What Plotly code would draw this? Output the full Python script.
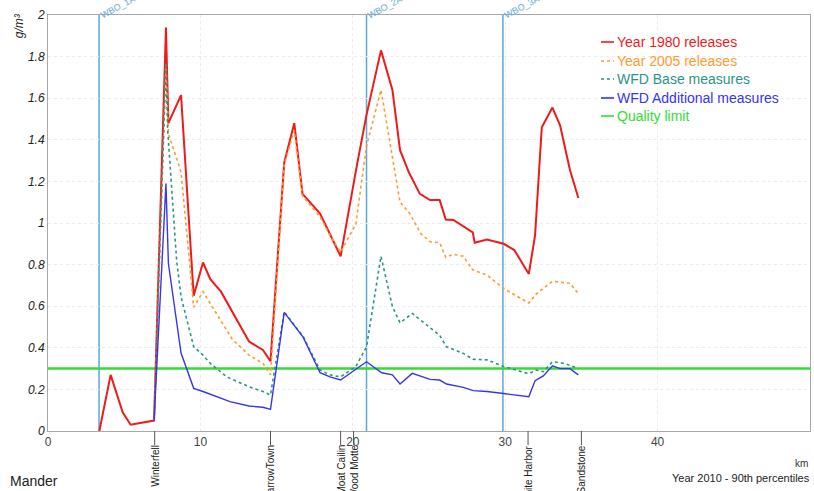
import plotly.graph_objects as go

# Concentration profiles along the river (km vs g/m³), 90th percentiles
km_1980 = [3.37, 4.11, 4.9, 5.42, 6.96, 7.74, 7.9, 8.73, 9.56, 10.17, 10.65, 11.35, 13.19, 14.1, 14.6,
           15.5, 16.16, 16.7, 17.85, 18.5, 19.2, 20.25, 20.9, 21.85, 22.6, 23.1, 23.7, 24.4, 25.07, 25.7,
           26.1, 26.6, 27.87, 28.0, 28.8, 29.9, 30.6, 31.55, 31.96, 32.4, 33.1, 33.6, 34.25, 34.8]
val_1980 = [0.0, 0.27, 0.09, 0.03, 0.05, 1.94, 1.48, 1.615, 0.65, 0.81, 0.73, 0.67, 0.43, 0.39, 0.335,
            1.29, 1.48, 1.14, 1.045, 0.95, 0.84, 1.27, 1.52, 1.83, 1.64, 1.35, 1.24, 1.14, 1.11, 1.11,
            1.017, 1.015, 0.955, 0.905, 0.92, 0.90, 0.87, 0.755, 0.94, 1.46, 1.555, 1.47, 1.255, 1.12]

km_2005 = [6.96, 7.74, 7.9, 8.73, 9.56, 10.17, 12.1, 13.19, 14.1, 14.6, 15.5, 16.16, 16.7, 17.85, 18.5,
           19.2, 20.2, 20.9, 21.85, 23.1, 23.75, 24.45, 25.07, 25.7, 26.1, 26.6, 27.25, 27.87, 28.8,
           29.9, 30.6, 31.55, 32.05, 33.1, 34.25, 34.8]
val_2005 = [0.05, 1.76, 1.43, 1.245, 0.595, 0.67, 0.44, 0.365, 0.325, 0.27, 1.28, 1.445, 1.13, 1.03, 0.94,
            0.86, 0.995, 1.37, 1.64, 1.10, 1.045, 0.95, 0.91, 0.905, 0.835, 0.85, 0.84, 0.775, 0.75,
            0.685, 0.655, 0.615, 0.66, 0.72, 0.71, 0.66]

km_base = [6.96, 7.74, 7.85, 8.44, 8.73, 9.56, 10.17, 10.65, 11.73, 13.19, 14.1, 14.6, 15.5, 16.75, 17.85,
           18.5, 19.2, 20.2, 20.9, 21.85, 22.6, 23.1, 23.9, 25.7, 26.15, 27.25, 27.9, 28.8, 29.9,
           31.55, 32.05, 32.5, 33.1, 33.9, 34.8]
val_base = [0.05, 1.77, 1.45, 0.82, 0.645, 0.405, 0.365, 0.325, 0.26, 0.213, 0.19, 0.173, 0.573, 0.453, 0.293,
            0.27, 0.26, 0.31, 0.405, 0.84, 0.598, 0.52, 0.565, 0.46, 0.405, 0.373, 0.345, 0.342, 0.31,
            0.275, 0.293, 0.285, 0.333, 0.325, 0.30]

km_add = [6.96, 7.74, 7.9, 8.73, 9.56, 10.17, 11.94, 13.19, 14.1, 14.6, 15.5, 16.75, 17.85, 18.5, 19.2,
          20.2, 20.9, 21.9, 22.6, 23.1, 23.9, 25.07, 25.7, 26.15, 27.25, 27.9, 28.8, 29.9, 31.55,
          31.96, 32.5, 33.1, 33.6, 34.25, 34.8]
val_add = [0.05, 1.19, 0.805, 0.375, 0.205, 0.19, 0.141, 0.12, 0.114, 0.104, 0.57, 0.45, 0.28, 0.26, 0.245,
           0.297, 0.333, 0.28, 0.27, 0.226, 0.277, 0.248, 0.245, 0.226, 0.21, 0.194, 0.19, 0.18, 0.165,
           0.242, 0.265, 0.313, 0.30, 0.30, 0.27]

quality_limit = 0.3
x_range = [0, 50]

# Water-body boundaries and named stations along the river
wbo_km = [3.35, 20.9, 29.85]
wbo_names = ["WBO_1A", "WBO_2A", "WBO_3A"]
station_km = [7.0, 14.6, 19.2, 20.05, 31.5, 35.0]
station_names = ["Winterfell", "BarrowTown", "Moat Cailin", "Wood Motte", "White Harbor", "Sandstone"]

series_names = ["Year 1980 releases", "Year 2005 releases", "WFD Base measures",
                "WFD Additional measures", "Quality limit"]
series_colors = ["#ee1b1b", "#ff9a30", "#2b9488", "#3636ee", "#33dd33"]
series_dash = ["solid", "dot", "dot", "solid", "solid"]

FONT = "Arial, Liberation Sans, sans-serif"

fig = go.Figure()

fig.add_trace(go.Scatter(x=x_range, y=[quality_limit, quality_limit], mode="lines",
                         line=dict(color=series_colors[4], width=2.5), name=series_names[4]))
fig.add_trace(go.Scatter(x=km_1980, y=val_1980, mode="lines",
                         line=dict(color=series_colors[0], width=2), name=series_names[0]))
fig.add_trace(go.Scatter(x=km_2005, y=val_2005, mode="lines",
                         line=dict(color=series_colors[1], width=1.6, dash="dot"), name=series_names[1]))
fig.add_trace(go.Scatter(x=km_base, y=val_base, mode="lines",
                         line=dict(color=series_colors[2], width=1.6, dash="dot"), name=series_names[2]))
fig.add_trace(go.Scatter(x=km_add, y=val_add, mode="lines",
                         line=dict(color=series_colors[3], width=1.4), name=series_names[3]))

shapes = []
annotations = []

# Water-body boundary lines with slanted labels at the top
for k, name in zip(wbo_km, wbo_names):
    shapes.append(dict(type="line", xref="x", yref="paper", x0=k, x1=k, y0=0, y1=1,
                       line=dict(color="#5aa8d6", width=1.5), layer="below"))
    annotations.append(dict(x=k, y=1, xref="x", yref="paper", text=name, showarrow=False,
                            textangle=-28, xanchor="left", yanchor="bottom", xshift=-3, yshift=-8,
                            font=dict(family=FONT, size=9, color="#62aad8")))

# Station ticks and rotated names below the axis
for k, name in zip(station_km, station_names):
    shapes.append(dict(type="line", xref="x", yref="paper", x0=k, x1=k, y0=0, y1=-0.034,
                       line=dict(color="#555555", width=1)))
    annotations.append(dict(x=k, y=0, xref="x", yref="paper", text=name, showarrow=False,
                            textangle=-90, xanchor="center", yanchor="top", yshift=-12,
                            font=dict(family=FONT, size=10, color="#222222")))

# Legend drawn as short coloured samples with coloured labels
legend_rows_px = [42, 61, 79, 98, 116]
plot_top, plot_bottom, plot_left, plot_w = 15, 431, 48, 762
for name, col, dash, ypx in zip(series_names, series_colors, series_dash, legend_rows_px):
    yp = (plot_bottom - ypx) / (plot_bottom - plot_top)
    shapes.append(dict(type="line", xref="paper", yref="paper",
                       x0=(601 - plot_left) / plot_w, x1=(614 - plot_left) / plot_w, y0=yp, y1=yp,
                       line=dict(color=col, width=1.6, dash=dash)))
    annotations.append(dict(x=(615 - plot_left) / plot_w, y=yp, xref="paper", yref="paper", text=name,
                            showarrow=False, xanchor="left", yanchor="middle",
                            font=dict(family=FONT, size=14, color=col)))

# Axis title, unit and footer texts
annotations += [
    dict(x=-0.037, y=0.975, xref="paper", yref="paper", text="<i>g/m³</i>", showarrow=False,
         textangle=-90, xanchor="center", yanchor="middle", font=dict(family=FONT, size=12, color="#222222")),
    dict(x=1.0, y=-0.079, xref="paper", yref="paper", text="km", showarrow=False,
         xanchor="right", yanchor="middle", font=dict(family=FONT, size=10, color="#333333")),
    dict(x=-0.0525, y=-0.12, xref="paper", yref="paper", text="Mander", showarrow=False,
         xanchor="left", yanchor="middle", font=dict(family=FONT, size=14, color="#222222")),
    dict(x=1.0, y=-0.113, xref="paper", yref="paper", text="Year 2010 - 90th percentiles", showarrow=False,
         xanchor="right", yanchor="middle", xshift=2, font=dict(family=FONT, size=11, color="#222222")),
]

fig.update_layout(
    width=814, height=491,
    margin=dict(l=48, r=4, t=15, b=60),
    paper_bgcolor="white", plot_bgcolor="white",
    showlegend=False,
    font=dict(family=FONT, color="#333333"),
    shapes=shapes, annotations=annotations,
)
fig.update_xaxes(range=x_range, dtick=10, tick0=0, showline=True, linecolor="#a8a8a8", linewidth=1,
                 mirror=True, showgrid=True, gridcolor="#ececec", griddash="dot", zeroline=False,
                 ticks="", tickfont=dict(family=FONT, size=12, color="#444444"), automargin=False)
fig.update_yaxes(range=[0, 2], dtick=0.2, tick0=0, showline=True, linecolor="#a8a8a8", linewidth=1,
                 mirror=True, showgrid=True, gridcolor="#ececec", griddash="dot", zeroline=False,
                 ticks="", tickfont=dict(family=FONT, size=12, color="#222222", style="italic"),
                 automargin=False)

fig.write_html("out.html")
